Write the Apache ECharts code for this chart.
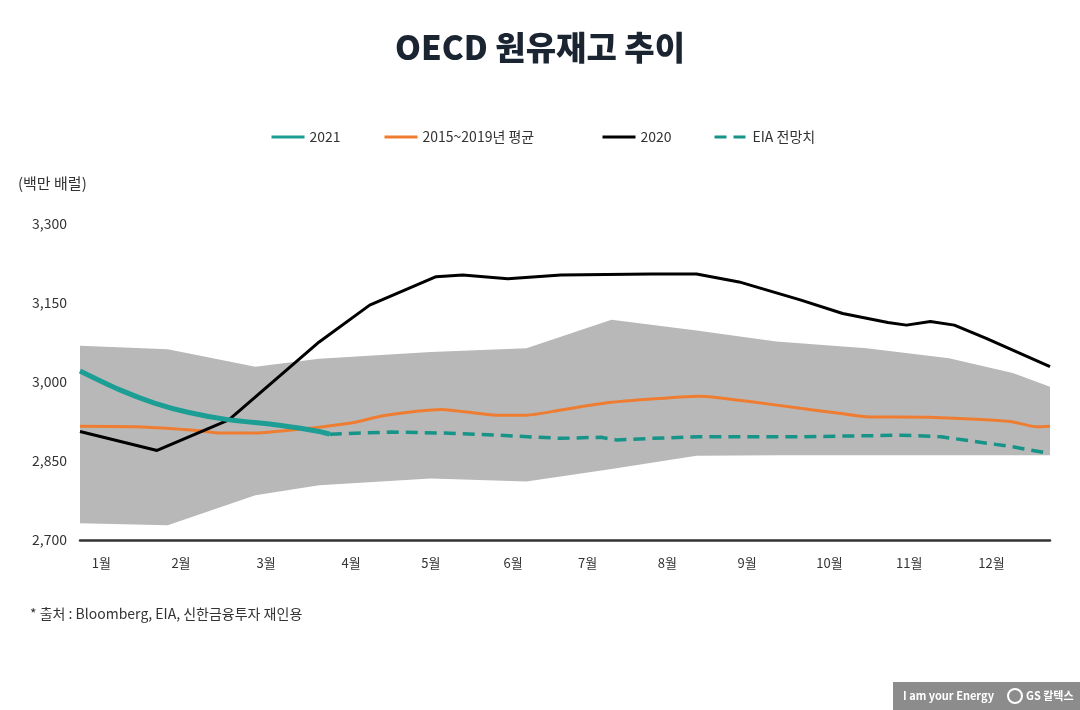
<!DOCTYPE html>
<html>
<head>
<meta charset="utf-8">
<script src="https://cdn.jsdelivr.net/npm/echarts@6/dist/echarts.min.js"></script>
<style>
html,body{margin:0;padding:0;background:#fff;}
#chart{width:1080px;height:710px;}
</style>
</head>
<body>
<div id="chart"></div>
<script>
// x values are day-of-year positions
var monthLabels = ['1월','2월','3월','4월','5월','6월','7월','8월','9월','10월','11월','12월'];
var monthLabelDays = [8, 38, 70, 102, 132, 163, 191, 221, 251, 282, 312, 343];
var yTicks = [2700, 2850, 3000, 3150, 3300];

// 2015~2019 range band
var bandDays  = [0, 33, 66, 90, 132, 168, 200, 232, 262, 296, 327, 351, 365];
var bandLower = [2732, 2728, 2785, 2804, 2817, 2811, 2835, 2860, 2861, 2861, 2861, 2861, 2861];
var bandUpper = [3069, 3062, 3029, 3044, 3057, 3064, 3118, 3098, 3077, 3064, 3045, 3017, 2991];

// 2015~2019 average
var avgDays   = [0, 21, 44, 53, 67, 78, 90, 103, 114, 136, 157, 168, 181, 199, 208, 233, 252, 271, 285, 296, 319, 350, 360, 365];
var avgValues = [2916, 2915, 2908, 2903, 2903, 2908, 2914, 2923, 2936, 2948, 2937, 2937, 2947, 2961, 2965, 2973, 2963, 2950, 2941, 2934, 2933, 2925, 2915, 2916];

// 2020
var y2020Days   = [0, 29, 56, 90, 109, 134, 144, 161, 181, 215, 232, 248, 271, 287, 304, 311, 320, 329, 341, 365];
var y2020Values = [2906, 2870, 2928, 3076, 3146, 3200, 3203, 3196, 3203, 3205, 3205, 3190, 3156, 3130, 3113, 3108, 3115, 3108, 3083, 3029];

// 2021
var y2021Days   = [0, 15, 28, 41, 55, 75, 90, 94];
var y2021Values = [3021, 2985, 2960, 2942, 2929, 2918, 2906, 2901];

// EIA forecast
var eiaDays   = [94, 117, 137, 157, 181, 196, 202, 215, 233, 271, 309, 324, 351, 364];
var eiaValues = [2901, 2905, 2903, 2899, 2893, 2895, 2890, 2893, 2896, 2896, 2899, 2896, 2877, 2865];

function zip(xs, ys){ return xs.map(function(x,i){ return [x, ys[i]]; }); }

var FONT = '"Noto Sans CJK KR", "Noto Sans", sans-serif';
var chart = echarts.init(document.getElementById('chart'));

var legendBase = {
  orient: 'horizontal', top: 125, itemWidth: 33, itemHeight: 14,
  textStyle: {color: '#333', fontSize: 14, fontFamily: FONT},
  lineStyle: {width: 3}, itemStyle: {opacity: 0}, selectedMode: false
};
function lg(name, left){ return Object.assign({}, legendBase, {left: left, data: [name]}); }

var bandData = bandDays.map(function(d, i){ return [d, bandLower[i], bandUpper[i]]; });

var option = {
  backgroundColor: '#fff',
  animation: false,
  title: {
    text: 'OECD 원유재고 추이', left: 'center', top: 26,
    textStyle: {color: '#1b2431', fontSize: 33, fontWeight: 900, fontFamily: FONT}
  },
  legend: [
    lg('2021', 265),
    lg('2015~2019년 평균', 378),
    lg('2020', 596),
    lg('EIA 전망치', 708)
  ],
  grid: {left: 80, right: 30, top: 224, bottom: 170, containLabel: false},
  xAxis: {
    type: 'value', min: 0, max: 365,
    splitLine: {show: false},
    axisTick: {show: false},
    axisLine: {show: true, lineStyle: {color: '#333', width: 2.5}},
    axisLabel: {
      customValues: monthLabelDays,
      formatter: function(v){ var i = monthLabelDays.indexOf(v); return i >= 0 ? monthLabels[i] : ''; },
      color: '#333', fontSize: 13, fontFamily: FONT, margin: 17
    }
  },
  yAxis: {
    type: 'value', min: 2700, max: 3300, interval: 150,
    splitLine: {show: false}, axisLine: {show: false}, axisTick: {show: false},
    axisLabel: {
      customValues: yTicks,
      formatter: function(v){ return String(v).replace(/\B(?=(\d{3})+(?!\d))/g, ','); },
      color: '#333', fontSize: 14, fontFamily: FONT, margin: 13
    }
  },
  series: [
    {
      name: 'band', type: 'custom', data: bandData, silent: true, z: 1,
      encode: {x: 0, y: [1, 2]},
      renderItem: function(params, api){
        if (params.dataIndex !== 0) return null;
        var top = [], bottom = [];
        for (var i = 0; i < bandData.length; i++) {
          top.push(api.coord([bandData[i][0], bandData[i][2]]));
          bottom.unshift(api.coord([bandData[i][0], bandData[i][1]]));
        }
        return {type: 'polygon', shape: {points: top.concat(bottom)}, style: {fill: '#b8b8b8'}};
      }
    },
    {
      name: '2015~2019년 평균', type: 'line', data: zip(avgDays, avgValues),
      symbol: 'none', smooth: 0.2, lineStyle: {color: '#ee7d31', width: 3}, itemStyle: {color: '#ee7d31'}, z: 3
    },
    {
      name: '2020', type: 'line', data: zip(y2020Days, y2020Values),
      symbol: 'none', lineStyle: {color: '#000', width: 3}, itemStyle: {color: '#000'}, z: 4
    },
    {
      name: 'EIA 전망치', type: 'line', data: zip(eiaDays, eiaValues),
      symbol: 'none', lineStyle: {color: '#169488', width: 3.5, type: [12, 7]}, itemStyle: {color: '#169488'}, z: 5
    },
    {
      name: '2021', type: 'line', data: zip(y2021Days, y2021Values),
      symbol: 'none', smooth: 0.3, lineStyle: {color: '#1c9e94', width: 5}, itemStyle: {color: '#1c9e94'}, z: 6
    }
  ],
  graphic: [
    {type: 'text', left: 18, top: 176, style: {text: '(백만 배럴)', fill: '#333', fontSize: 15, fontFamily: FONT}},
    {type: 'text', left: 30, top: 607, style: {text: '* 출처 : Bloomberg, EIA, 신한금융투자 재인용', fill: '#333', fontSize: 14, fontFamily: FONT}},
    {type: 'rect', shape: {x: 893, y: 682, width: 187, height: 28}, style: {fill: '#8c8c8c'}},
    {type: 'text', x: 903, y: 696, style: {text: 'I am your Energy', fill: '#fff', fontSize: 11, fontWeight: 'bold', fontFamily: FONT, verticalAlign: 'middle'}},
    {type: 'circle', shape: {cx: 1015, cy: 696, r: 7}, style: {fill: 'none', stroke: '#fff', lineWidth: 2}},
    {type: 'text', x: 1026, y: 696, style: {text: 'GS 칼텍스', fill: '#fff', fontSize: 11, fontWeight: 'bold', fontFamily: FONT, verticalAlign: 'middle'}}
  ]
};
chart.setOption(option);
</script>
</body>
</html>
